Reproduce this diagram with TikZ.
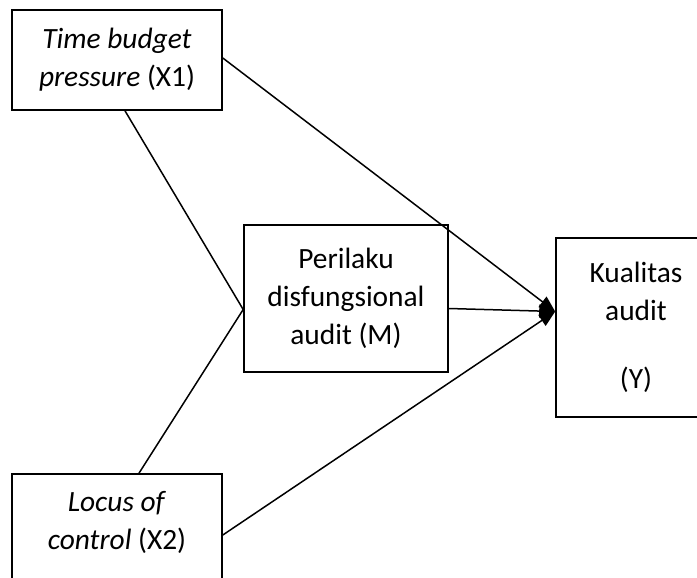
\documentclass[tikz,border=0pt]{standalone}
\usepackage{fontspec}
\setmainfont{Carlito}
\usetikzlibrary{arrows.meta}

\tikzset{
  varbox/.style={draw, line width=0.8pt, align=center, inner sep=0pt,
    font=\fontsize{14.7}{19}\selectfont},
  link/.style={line width=0.75pt},
  arrowlink/.style={line width=0.75pt, -{Triangle[length=8pt,width=6.5pt]}}
}

\begin{document}
\begin{tikzpicture}[x=0.5pt, y=-0.5pt]
% page frame, everything past it is cut off
\useasboundingbox (0,0) rectangle (697,578);
\clip (0,0) rectangle (697,578);

% the four variables
\node[varbox, minimum width=105pt, minimum height=50pt] (x1) at (117,60)
  {\textit{Time budget}\\\textit{pressure} (X1)};
\node[varbox, minimum width=105pt, minimum height=58pt, text depth=12pt] (x2) at (117,532)
  {\textit{Locus of}\\\textit{control} (X2)};
\node[varbox, minimum width=102pt, minimum height=73.5pt] (m) at (346,298.5)
  {Perilaku\\disfungsional\\audit (M)};
\node[varbox, minimum width=80pt, minimum height=89.5pt] (y) at (636,327.5)
  {Kualitas\\audit\\[15pt](Y)};

% meeting points
\coordinate (join) at ([yshift=-5.5pt]m.west);
\coordinate (tip) at ([yshift=8pt]y.west);

% lines into the mediator
\draw[link] ([xshift=4pt]x1.south) -- (join);
\draw[link] ([xshift=11pt]x2.north) -- (join);

% arrows into the outcome
\draw[arrowlink] ([yshift=1pt]x1.east) -- (tip);
\draw[arrowlink] ([yshift=-5pt]m.east) -- (tip);
\draw[arrowlink] ([yshift=-1.5pt]x2.east) -- (tip);

\end{tikzpicture}
\end{document}
